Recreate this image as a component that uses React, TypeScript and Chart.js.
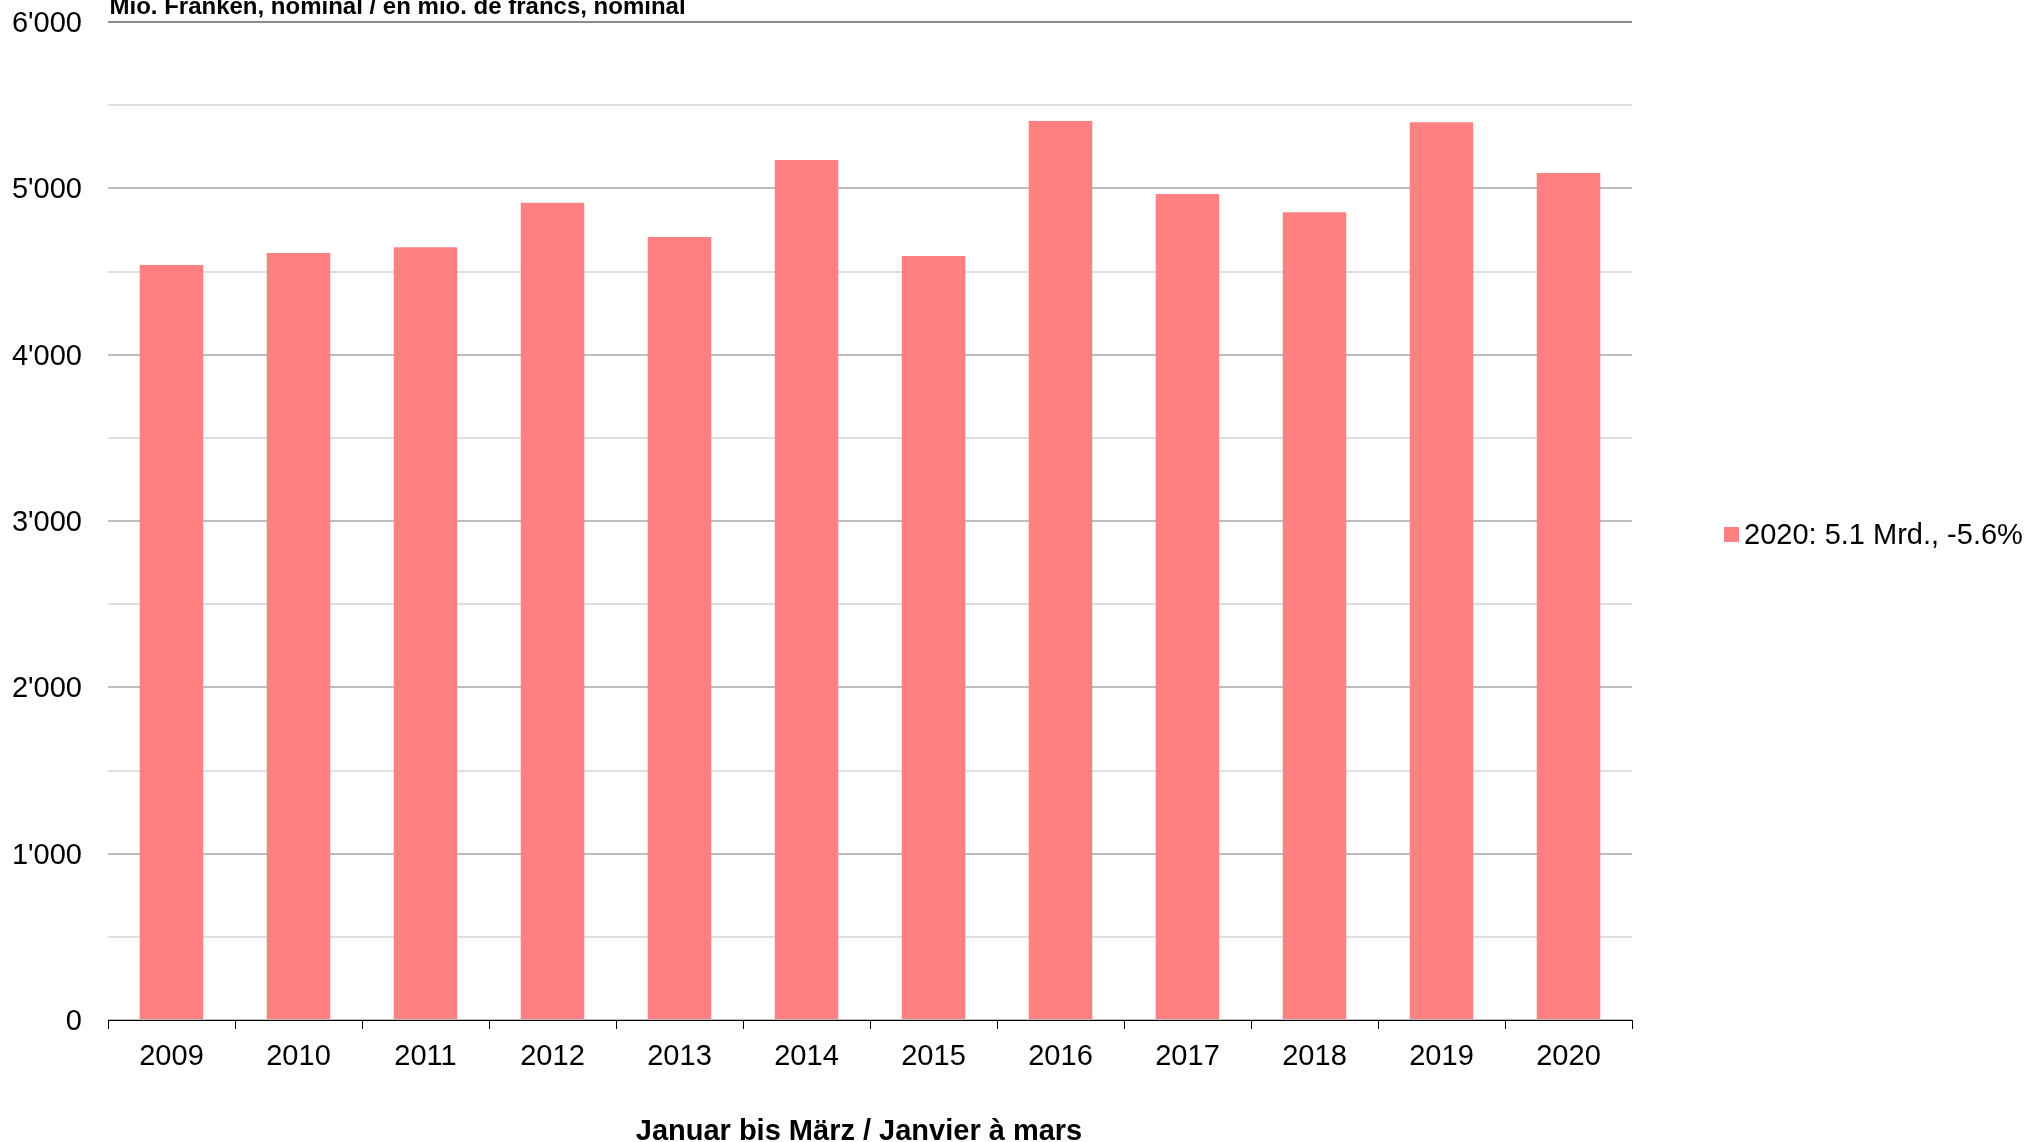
import React, { useEffect, useRef } from "react";
import { Chart, registerables } from "chart.js";

Chart.register(...registerables);

const categories = ["2009", "2010", "2011", "2012", "2013", "2014", "2015", "2016", "2017", "2018", "2019", "2020"];
const values = [4539, 4611, 4646, 4914, 4707, 5170, 4593, 5405, 4966, 4856, 5397, 5092];
const seriesLabel = "2020: 5.1 Mrd., -5.6%";
const unitTitle = "Mio. Franken, nominal / en mio. de francs, nominal";
const xTitle = "Januar bis März / Janvier à mars";

const FONT = "'Liberation Sans', Arial, Helvetica, sans-serif";
const BAR_COLOR = "#FF8080";

function fmt(v: number): string {
  return String(Math.round(v)).replace(/\B(?=(\d{3})+(?!\d))/g, "'");
}

const textPlugin = {
  id: "extraText",
  afterDraw(chart: any) {
    const { ctx, chartArea } = chart;
    ctx.save();
    ctx.fillStyle = "#000";
    ctx.textBaseline = "alphabetic";
    // unit title
    ctx.font = `bold 24px ${FONT}`;
    ctx.textAlign = "left";
    ctx.fillText(unitTitle, chartArea.left + 1.5, 13.5);
    // x-axis title
    ctx.font = `bold 29px ${FONT}`;
    ctx.textAlign = "center";
    ctx.fillText(xTitle, 859, 1140);
    // legend
    const ds = chart.data.datasets[0];
    ctx.fillStyle = ds.backgroundColor;
    ctx.fillRect(1724, 527, 15, 15);
    ctx.fillStyle = "#000";
    ctx.font = `29px ${FONT}`;
    ctx.textAlign = "left";
    ctx.fillText(ds.label, 1744, 543.5);
    ctx.restore();
  },
};

export default function App() {
  const ref = useRef<HTMLCanvasElement | null>(null);
  useEffect(() => {
    document.body.style.margin = "0";
    const canvas = ref.current!;
    const chart = new Chart(canvas, {
      type: "bar",
      data: {
        labels: categories,
        datasets: [
          {
            label: seriesLabel,
            data: values,
            backgroundColor: BAR_COLOR,
            borderWidth: 0,
            barPercentage: 0.5,
            categoryPercentage: 1,
          },
        ],
      },
      options: {
        responsive: false,
        animation: false,
        devicePixelRatio: 1,
        layout: { padding: { top: 22, right: 400, bottom: 70, left: 12 } },
        plugins: {
          legend: { display: false },
          title: { display: false },
          tooltip: { enabled: false },
        },
        scales: {
          x: {
            afterFit: (s: any) => {
              s.height = 52;
              s.paddingLeft = 0;
              s.paddingRight = 0;
            },
            grid: {
              display: true,
              drawOnChartArea: false,
              drawTicks: true,
              tickLength: 9,
              color: "#000",
              offset: true,
            },
            border: { display: true, color: "#000", width: 1 },
            ticks: {
              color: "#000",
              padding: 11,
              font: { family: FONT, size: 29 },
              maxRotation: 0,
            },
          },
          y: {
            min: 0,
            max: 6000,
            afterFit: (s: any) => {
              s.width = 96;
              s.paddingTop = 0;
              s.paddingBottom = 0;
            },
            grid: {
              drawTicks: false,
              color: (c: any) => {
                const v = c.tick ? c.tick.value : 0;
                if (v === 6000) return "#8c8c8c";
                if (v % 1000 === 0) return "#bdbdbd";
                return "#dfdfdf";
              },
              lineWidth: 2,
            },
            border: { display: false },
            ticks: {
              stepSize: 500,
              color: "#000",
              padding: 26,
              labelOffset: 2,
              font: { family: FONT, size: 29 },
              callback: (v: any) => (Number(v) % 1000 === 0 ? fmt(Number(v)) : ""),
            },
          },
        },
      },
      plugins: [textPlugin],
    });
    return () => chart.destroy();
  }, []);
  return (
    <div style={{ position: "fixed", left: 0, top: 0, width: 2032, height: 1142, background: "#fff" }}>
      <canvas ref={ref} width={2032} height={1142} style={{ display: "block", width: 2032, height: 1142 }} />
    </div>
  );
}
